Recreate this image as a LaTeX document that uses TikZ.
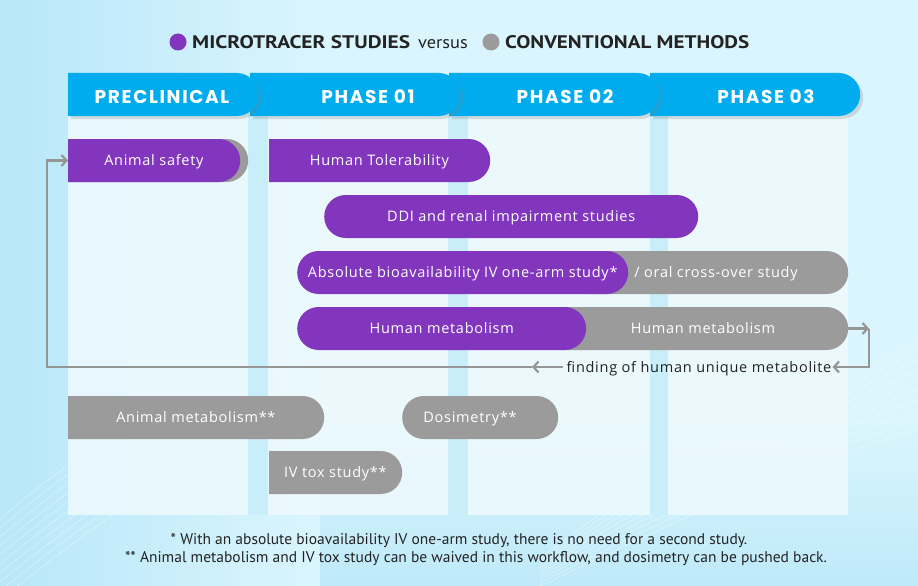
\documentclass[tikz,border=0pt]{standalone}
\usepackage{fontspec}
\setmainfont{Open Sans}
\newfontfamily\barfont{Open Sans}[LetterSpace=5]
\newfontfamily\tabfont{Poppins}[LetterSpace=9]
\newfontfamily\condfont{PT Sans}
\usetikzlibrary{shapes.misc,arrows.meta,shadows}
\definecolor{mpurple}{RGB}{130,54,190}
\definecolor{mgray}{RGB}{155,155,155}
\definecolor{agray}{RGB}{150,150,150}
\definecolor{tabblue}{RGB}{0,172,238}
\definecolor{bgleft}{RGB}{184,231,248}
\definecolor{bgmain}{RGB}{218,245,253}
\definecolor{panel}{RGB}{238,250,254}
\definecolor{gapc}{RGB}{200,238,250}
\definecolor{txt}{RGB}{35,35,35}
\tikzset{
  bar/.style={rounded rectangle, rounded rectangle left arc=none, minimum height=43pt, inner sep=0pt, text=white, text height=10.5pt, text depth=0pt, font=\barfont\fontsize{14.5}{16}\selectfont},
  pbar/.style={bar, fill=mpurple},
  gbar/.style={bar, fill=mgray},
  pill/.style={rounded rectangle, minimum height=43pt, inner sep=0pt, text=white, text height=10.5pt, text depth=0pt, font=\barfont\fontsize{14.5}{16}\selectfont},
  bartext/.style={inner sep=0pt, text=white, text height=10.5pt, text depth=0pt, font=\barfont\fontsize{14.5}{16}\selectfont},
  tabshape/.style={rounded rectangle, rounded rectangle left arc=none, minimum height=43pt, inner sep=0pt, fill=tabblue, drop shadow={shadow xshift=3pt, shadow yshift=-3pt, opacity=0.25}},
  tablabel/.style={inner sep=0pt, text=white, font=\tabfont\bfseries\fontsize{18.5}{20}\selectfont},
  arr/.style={draw=agray, line width=2.2pt, -{Straight Barb[length=5pt,width=11pt]}},
  foot/.style={inner sep=0pt, text=txt, font=\condfont\fontsize{15.5}{18}\selectfont},
  legtext/.style={inner sep=0pt, text=txt, font=\condfont\fontsize{17.5}{20}\selectfont},
}
\begin{document}
\begin{tikzpicture}[x=1pt,y=-1pt]
\useasboundingbox (0,0) rectangle (918,586);
% background
\fill[bgmain] (0,0) rectangle (918,586);
\shade[left color=bgleft, right color=bgmain] (0,0) rectangle (320,586);
\shade[top color=bgmain, bottom color=bgleft!80!bgmain] (320,420) rectangle (918,586);
\foreach \i in {0,...,9}{
  \draw[white, opacity=0.35, line width=0.8pt] (0,600-\i*9) .. controls (150,480-\i*10) and (250,420-\i*6) .. (420,380-\i*4);
  \draw[white, opacity=0.35, line width=0.8pt] (540,586-\i*3) .. controls (680,520-\i*8) and (780,470-\i*6) .. (918,430-\i*10);
}
% gap stripes and panels
\foreach \x in {248,448,650}{ \fill[gapc] (\x,116) rectangle (\x+20,515); }
\fill[panel, opacity=0.85] (68,116) rectangle (248,515);
\fill[panel, opacity=0.85] (268,116) rectangle (448,515);
\fill[panel, opacity=0.85] (468,116) rectangle (650,515);
\fill[panel, opacity=0.85] (668,116) rectangle (848,515);
% legend
\fill[mpurple] (178,42) circle (8.5);
\fill[mgray] (491,42) circle (8.5);
\node[legtext, anchor=west] (leg1) at (192,42) {\resizebox{218pt}{13pt}{\bfseries MICROTRACER STUDIES}};
\node[legtext, anchor=base west] (leg2) at (418,48.5) {\scalebox{1.05}[1]{versus}};
\node[legtext, anchor=west] (leg3) at (505,42) {\resizebox{244pt}{13pt}{\bfseries CONVENTIONAL METHODS}};
% tabs
\node[tabshape, minimum width=210pt, anchor=west] (tab3) at (650,94.5) {};
\node[tabshape, minimum width=210pt, anchor=west] (tab2) at (449,94.5) {};
\node[tabshape, minimum width=210pt, anchor=west] (tab1) at (250,94.5) {};
\node[tabshape, minimum width=190pt, anchor=west] (tab0) at (68,94.5) {};
\node[tablabel] (lab0) at (162,97) {PRECLINICAL};
\node[tablabel] (lab1) at (368,97) {PHASE 01};
\node[tablabel] (lab2) at (565,97) {PHASE 02};
\node[tablabel] (lab3) at (766,97) {PHASE 03};
% bars
\node[gbar, minimum width=180pt, anchor=west] (safetyshadow) at (68,160.5) {};
\node[pbar, minimum width=172pt, anchor=west] (safety) at (68,160.5) {Animal safety};
\node[pbar, minimum width=221pt, anchor=west] (toler) at (269,160.5) {Human Tolerability};
\node[pill, fill=mpurple, minimum width=374pt, anchor=west] (ddi) at (324,216.5) {DDI and renal impairment studies};
\node[gbar, minimum width=258pt, anchor=west] (abgray) at (590,272.5) {};
\node[bartext] (abtext) at (716,272.5) {/ oral cross-over study};
\node[pill, fill=mpurple, minimum width=331pt, anchor=west] (abs) at (297,272.5) {Absolute bioavailability IV one-arm study*};
\node[gbar, minimum width=288pt, anchor=west] (hmg) at (560,328.5) {};
\node[bartext] (hmgtext) at (703,328.5) {Human metabolism};
\node[pill, fill=mpurple, minimum width=289pt, anchor=west] (hmp) at (297,328.5) {Human metabolism};
\node[inner sep=0pt, text=txt, text height=10.5pt, text depth=0pt, font=\barfont\fontsize{14.5}{16}\selectfont] (find) at (699,367) {finding of human unique metabolite};
\node[gbar, minimum width=256pt, anchor=west] (amet) at (68,417.5) {Animal metabolism**};
\node[pill, fill=mgray, minimum width=156pt, anchor=west] (dos) at (402,417.5) {};
\node[bartext] (dostext) at (470,417.5) {Dosimetry**};
\node[gbar, minimum width=133pt, anchor=west] (ivtox) at (269,472.5) {IV tox study**};
% feedback arrows
\coordinate (c1) at (869,328.5);
\coordinate (c2) at (869,367);
\coordinate (c3) at (532,367);
\coordinate (c4) at (47,367);
\draw[arr] (hmg.east) -- (c1);
\draw[arr] (c1) -- (c2) -- ([xshift=1pt]find.east);
\draw[arr] ([xshift=-4pt]find.west) -- (c3);
\draw[arr] (c3) -- (c4) |- (safety.west);
% footnotes
\node[foot] (f1) at (459,541) {* With an absolute bioavailability IV one-arm study, there is no need for a second study.};
\node[foot] (f2) at (476,559) {** Animal metabolism and IV tox study can be waived in this workflow, and dosimetry can be pushed back.};
\end{tikzpicture}
\end{document}
